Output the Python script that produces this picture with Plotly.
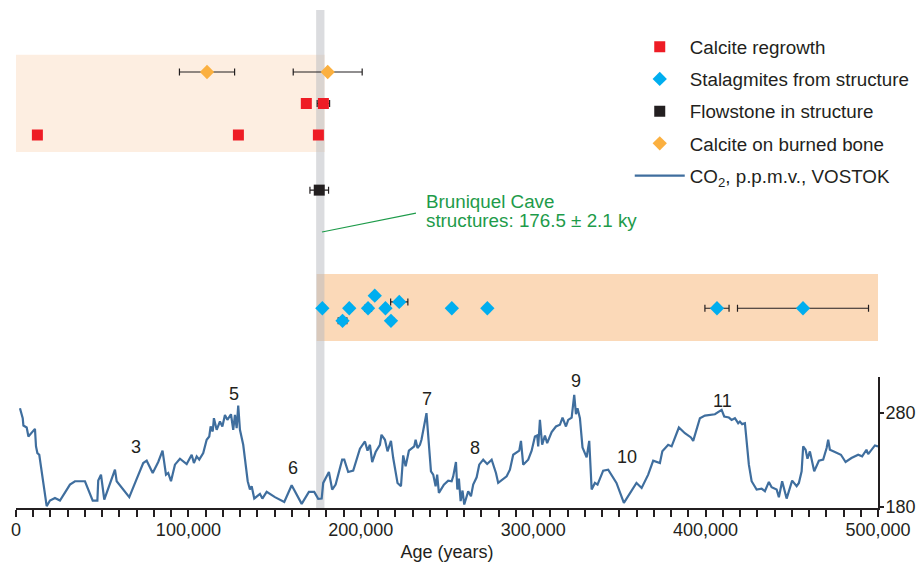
import plotly.graph_objects as go

# ---------------- data ----------------
# Vostok CO2 record: age (thousand years) and CO2 (p.p.m.v.)
co2_age_ky = [
    2.3, 3.9, 4.3, 6.2, 7.2, 9.1, 11.0, 11.6, 12.4, 13.5, 17.8, 19.7, 22.6, 25.5, 28.4,
    31.3, 34.2, 40.0, 44.5, 47.2, 47.7, 49.3, 51.2, 54.5, 57.4, 58.4, 62.2, 65.7, 69.6,
    73.8, 75.8, 79.3, 82.5, 85.0, 87.0, 88.3, 89.9, 92.2, 95.1, 99.0, 101.9, 103.2, 104.8,
    106.3, 108.6, 110.6, 112.1, 112.9, 114.1, 114.8, 116.4, 118.3, 119.7, 121.2, 122.6,
    123.1, 124.7, 126.0, 127.0, 128.0, 128.9, 129.9, 131.8, 134.4, 135.7, 136.7, 138.2,
    141.5, 142.9, 145.4, 150.2, 155.6, 159.9, 165.7, 169.9, 173.0, 175.3, 177.3, 178.2,
    181.5, 183.4, 185.4, 189.2, 190.4, 192.7, 195.6, 199.5, 202.4, 203.9, 205.3, 206.6,
    208.6, 211.1, 212.0, 214.0, 215.5, 217.5, 218.8, 220.2, 221.3, 223.3, 224.6, 226.0,
    227.9, 231.0, 231.8, 232.9, 234.3, 235.2, 238.1, 240.7, 242.0, 243.4, 244.3, 245.3,
    248.2, 250.7, 252.7, 253.6, 255.2, 256.0, 256.9, 257.9, 259.0, 260.0, 262.3, 263.9,
    265.2, 267.2, 268.7, 271.0, 273.3, 275.9, 278.4, 279.7, 284.6, 286.5, 288.4, 291.9,
    292.9, 294.2, 297.1, 299.1, 301.0, 302.3, 302.9, 303.9, 305.2, 306.8, 308.1, 310.7,
    313.2, 315.5, 317.0, 319.0, 320.3, 322.3, 323.8, 324.8, 325.7, 327.1, 328.6, 331.0,
    332.5, 333.9, 335.8, 337.3, 340.6, 343.5, 346.4, 348.3, 352.6, 356.1, 359.9, 362.9,
    366.7, 369.6, 373.5, 374.9, 378.3, 380.3, 384.5, 388.0, 391.5, 392.8, 396.7, 399.6,
    405.4, 409.3, 410.8, 413.5, 415.1, 417.0, 418.9, 419.9, 421.2, 422.8, 423.8, 425.1,
    426.7, 429.6, 432.5, 434.4, 436.7, 438.3, 441.2, 442.5, 444.4, 447.0, 450.2, 452.8,
    454.1, 455.7, 456.6, 458.0, 459.1, 460.5, 463.0, 465.7, 468.2, 470.2, 471.1, 472.1,
    475.0, 478.5, 481.2, 484.6, 488.5, 490.8, 493.3, 494.3, 498.2, 500.0,
]
co2_ppm = [
    284.6, 274.0, 266.2, 264.1, 254.6, 259.2, 262.7, 244.0, 237.0, 235.2, 180.6, 186.6, 189.4, 186.6, 194.7,
    203.5, 207.1, 207.1, 186.6, 186.6, 207.8, 214.1, 187.7, 203.5, 219.4, 207.1, 198.3, 190.2, 207.8,
    226.4, 228.9, 215.9, 227.5, 239.5, 214.1, 215.9, 207.1, 224.7, 231.0, 225.4, 235.2, 226.4, 233.5,
    230.0, 237.0, 251.1, 254.6, 265.2, 259.9, 274.0, 261.7, 270.5, 265.2, 277.5, 272.2,
    274.0, 278.2, 261.7, 277.5, 263.4, 287.4, 261.7, 245.8, 207.1, 198.3, 201.8, 188.7,
    193.7, 188.7, 195.8, 190.2, 185.2, 202.8, 183.1, 195.8, 195.8, 188.4, 188.7, 205.3,
    216.9, 198.3, 203.5, 230.0, 230.0, 216.9, 218.3, 241.6, 249.3, 239.5, 245.8, 227.5,
    238.1, 245.8, 256.4, 251.1, 238.8, 250.0, 231.7, 214.1, 205.3, 201.8, 234.5, 222.9,
    239.5, 244.1, 251.1, 242.3, 245.8, 251.1, 279.3, 217.6, 214.1, 201.8, 214.1, 194.7,
    203.5, 207.8, 207.1, 212.3, 227.5, 198.3, 209.9, 186.0, 197.2, 182.4, 196.5, 191.2,
    203.5, 211.3, 224.7, 230.0, 225.4, 230.0, 215.9, 205.3, 212.3, 219.4, 235.2, 239.5,
    250.0, 224.7, 230.0, 239.5, 254.6, 255.7, 244.1, 272.2, 245.8, 255.7, 247.6, 259.2,
    265.2, 267.0, 274.7, 265.2, 272.2, 274.7, 298.7, 278.2, 284.6, 274.0, 243.0, 232.4,
    250.0, 198.3, 205.3, 203.5, 218.3, 219.4, 210.6, 205.3, 184.2, 194.7, 205.3, 200.0,
    214.1, 228.9, 226.4, 238.8, 245.8, 244.1, 264.1, 258.1, 253.6, 250.0, 274.0, 276.8,
    278.2, 282.8, 275.8, 274.7, 272.2, 274.0, 268.7, 270.5, 267.7, 268.7, 245.8, 224.7,
    207.1, 198.3, 199.3, 196.5, 206.4, 200.7, 198.3, 190.2, 207.1, 188.7, 207.8, 201.8,
    205.3, 217.6, 244.1, 240.5, 231.0, 238.8, 217.6, 228.9, 230.0, 242.3, 251.1, 240.5,
    238.1, 235.2, 227.5, 231.7, 235.2, 233.5, 240.5, 235.9, 245.1, 244.0,
]

# Marine isotope stage labels
stage_labels = ["3", "5", "6", "7", "8", "9", "10", "11"]
stage_age = [69600, 126500, 160700, 238200, 266200, 324600, 354200, 409900]
stage_ppm = [243.6, 299.6, 221.2, 294.3, 241.9, 313.5, 233.1, 292.3]

# Dated samples (age in years, error in years, display row)
regrowth_age = [168400, 178300, 12400, 129000, 175400]
regrowth_err = [0, 3600, 0, 0, 0]
regrowth_row = [1, 1, 2, 2, 2]

stalag_age = [177700, 193300, 189400, 204200, 208100, 214300, 217500, 222300,
              252800, 273400, 406600, 456500]
stalag_err = [1500, 1500, 2500, 2000, 1500, 1500, 1500, 5000, 1000, 1000, 7000, 38000]
stalag_row = [7.5, 7.5, 7.9, 7.5, 7.1, 7.5, 7.9, 7.3, 7.5, 7.5, 7.5, 7.5]

flow_age = [175900]
flow_err = [5400]
flow_row = [3.75]

bone_age = [110800, 180800]
bone_err = [16000, 20000]
bone_row = [0, 0]

structure_age = 176500
structure_err = 2100
callout_lines = ["Bruniquel Cave", "structures: 176.5 ± 2.1 ky"]

# ---------------- figure ----------------
ink = "#231f20"
green = "#1e9b4a"
font_family = "Liberation Sans, Arial, sans-serif"

fig = go.Figure()

err_style = dict(type="data", color=ink, thickness=1.2, width=3.5)

# sample markers on the (hidden) row axis "y"
fig.add_trace(go.Scatter(
    x=regrowth_age, y=regrowth_row, yaxis="y", mode="markers",
    name="Calcite regrowth", legendgroup="a",
    marker=dict(symbol="square", size=11, color="#ee1c25"),
    error_x=dict(array=regrowth_err, **err_style),
))
fig.add_trace(go.Scatter(
    x=stalag_age, y=stalag_row, yaxis="y", mode="markers",
    name="Stalagmites from structure", legendgroup="b",
    marker=dict(symbol="diamond", size=11, color="#00aeef"),
    error_x=dict(array=stalag_err, **err_style),
))
fig.add_trace(go.Scatter(
    x=flow_age, y=flow_row, yaxis="y", mode="markers",
    name="Flowstone in structure", legendgroup="c",
    marker=dict(symbol="square", size=11, color=ink),
    error_x=dict(array=flow_err, **err_style),
))
fig.add_trace(go.Scatter(
    x=bone_age, y=bone_row, yaxis="y", mode="markers",
    name="Calcite on burned bone", legendgroup="d",
    marker=dict(symbol="diamond", size=11, color="#fbb040"),
    error_x=dict(array=bone_err, **err_style),
))
# CO2 curve on the right-hand axis "y2"
fig.add_trace(go.Scatter(
    x=[a * 1000 for a in co2_age_ky], y=co2_ppm, yaxis="y2", mode="lines",
    name="CO<sub>2</sub>, p.p.m.v., VOSTOK", legendgroup="e",
    line=dict(color="#3f6e9e", width=2.2),
))

for lab, xa, ya in zip(stage_labels, stage_age, stage_ppm):
    fig.add_annotation(x=xa, y=ya, xref="x", yref="y2", text=lab, showarrow=False,
                       font=dict(size=18, color=ink, family=font_family))

row_lo, row_hi = 13.84, -1.968
shapes = [
    # shaded sample groups
    dict(type="rect", xref="x", yref="y", x0=0, x1=structure_age + 2600,
         y0=-0.55, y1=2.54, fillcolor="#fdeee1", line=dict(width=0), layer="below"),
    dict(type="rect", xref="x", yref="y", x0=structure_age - 2100, x1=500000,
         y0=6.41, y1=8.54, fillcolor="#fbd9b8", line=dict(width=0), layer="below"),
    # Bruniquel structures age band
    dict(type="rect", xref="x", yref="y", x0=structure_age - structure_err - 300,
         x1=structure_age + structure_err + 300, y0=row_hi, y1=row_lo,
         fillcolor="#b8babf", opacity=0.5, line=dict(width=0), layer="below"),
    # callout line
    dict(type="line", xref="x", yref="y", x0=177500, y0=5.08, x1=232000, y1=4.48,
         line=dict(color=green, width=1.2)),
]
fig.update_layout(shapes=shapes)

for txt, yr in zip(callout_lines, [4.12, 4.72]):
    fig.add_annotation(x=236500, y=yr, xref="x", yref="y", xanchor="left", align="left",
                       text=txt, showarrow=False,
                       font=dict(size=18.8, color=green, family=font_family))

fig.update_layout(
    width=917, height=562,
    margin=dict(l=16, r=39, t=10, b=54, autoexpand=False),
    paper_bgcolor="white", plot_bgcolor="rgba(0,0,0,0)",
    font=dict(family=font_family, size=18, color=ink),
    showlegend=True,
    legend=dict(x=0.712, y=0.964, xanchor="left", yanchor="top",
                font=dict(size=18.8, color=ink), tracegroupgap=4.8, itemwidth=50,
                bgcolor="rgba(0,0,0,0)"),
    xaxis=dict(range=[0, 500000], anchor="y2", showgrid=False, zeroline=False,
               showline=True, linecolor=ink, linewidth=2,
               ticks="outside", ticklen=7, tickwidth=2, tickcolor=ink,
               tickmode="linear", tick0=0, dtick=100000, tickformat=",d",
               ticklabelstandoff=-3,
               minor=dict(ticks="outside", ticklen=7, tickwidth=2, tickcolor=ink,
                          dtick=10000, tick0=0, showgrid=False),
               tickfont=dict(size=18, color=ink), automargin=False,
               title=dict(text="Age (years)", font=dict(size=18, color=ink), standoff=9)),
    yaxis=dict(domain=[0, 1], range=[row_lo, row_hi], anchor="x", visible=False,
               showgrid=False, zeroline=False),
    yaxis2=dict(domain=[0, 0.263], range=[178.7, 317.7], side="right", anchor="x",
                showgrid=False, zeroline=False, showline=True, linecolor=ink, linewidth=2,
                ticks="outside", ticklen=4, tickwidth=2, tickcolor=ink,
                ticklabelstandoff=-2,
                tickmode="array", tickvals=[180, 280], automargin=False,
                tickfont=dict(size=18, color=ink)),
)

fig.write_html("out.html")
